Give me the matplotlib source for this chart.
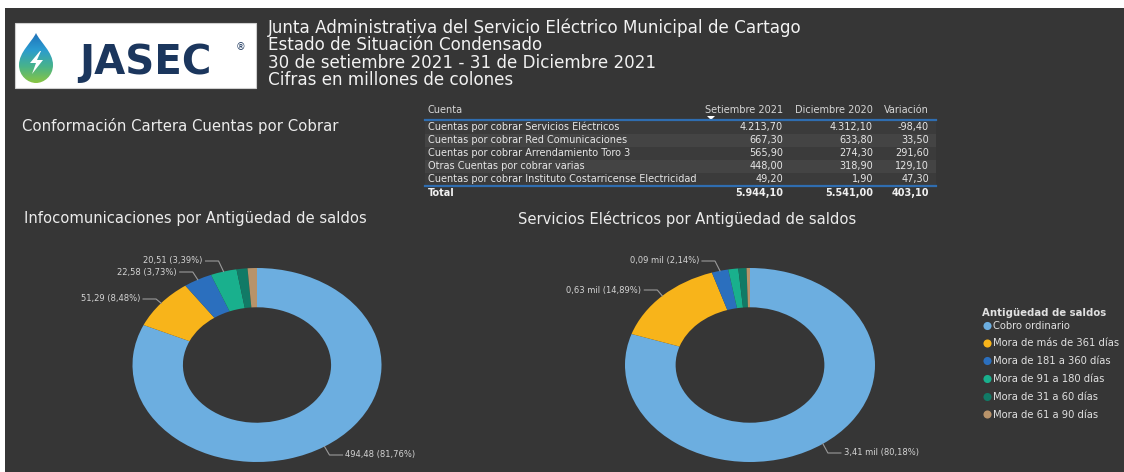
import numpy as np
import matplotlib
matplotlib.use("Agg")
import matplotlib.pyplot as plt
from matplotlib.path import Path
from matplotlib.patches import PathPatch, Rectangle, Polygon
from matplotlib.colors import LinearSegmentedColormap

plt.rcParams['font.family'] = ['DejaVu Sans']

# ---------------- data ----------------
title_lines = [
    "Junta Administrativa del Servicio Eléctrico Municipal de Cartago",
    "Estado de Situación Condensado",
    "30 de setiembre 2021 - 31 de Diciembre 2021",
    "Cifras en millones de colones",
]
table_headers = ["Cuenta", "Setiembre 2021", "Diciembre 2020", "Variación"]
cuentas = [
    "Cuentas por cobrar Servicios Eléctricos",
    "Cuentas por cobrar Red Comunicaciones",
    "Cuentas por cobrar Arrendamiento Toro 3",
    "Otras Cuentas por cobrar varias",
    "Cuentas por cobrar Instituto Costarricense Electricidad",
]
setiembre_2021 = [4213.70, 667.30, 565.90, 448.00, 49.20]
diciembre_2020 = [4312.10, 633.80, 274.30, 318.90, 1.90]
variacion = [-98.40, 33.50, 291.60, 129.10, 47.30]
totales = [5944.10, 5541.00, 403.10]

categorias = ["Cobro ordinario", "Mora de más de 361 días", "Mora de 181 a 360 días",
              "Mora de 91 a 180 días", "Mora de 31 a 60 días", "Mora de 61 a 90 días"]
colores = ["#6CAEE0", "#F8B41A", "#2B6FBE", "#19B08D", "#117A66", "#B8936A"]
infocom_vals = [494.48, 51.29, 22.58, 20.51, 8.60, 7.33]
electricos_vals = [3410.2, 633.3, 91.0, 55.0, 45.0, 18.7]

# ---------------- layout ----------------
W, H = 1124, 472
BG = "#363636"
fig = plt.figure(figsize=(W / 100, H / 100), dpi=100)
fig.patch.set_facecolor(BG)

ov = fig.add_axes([0, 0, 1, 1], zorder=3)
ov.set_xlim(0, W)
ov.set_ylim(H, 0)
ov.axis('off')
ov.patch.set_visible(False)

# white frame strips
ov.add_patch(Rectangle((0, 0), W, 8, color="white", lw=0))
ov.add_patch(Rectangle((0, 0), 5, H, color="white", lw=0))

# logo box
ov.add_patch(Rectangle((15, 23), 241, 65, facecolor="white", edgecolor="#cfcfcf", lw=0.8))
verts = [(36, 33), (40, 42), (53, 52), (53, 65), (53, 76), (44, 83), (36, 83),
         (28, 83), (19, 76), (19, 65), (19, 52), (32, 42), (36, 33)]
codes = [Path.MOVETO] + [Path.CURVE4] * 12
drop = PathPatch(Path(verts, codes), facecolor="none", edgecolor="none")
ov.add_patch(drop)
grad = np.linspace(0, 1, 100).reshape(-1, 1)
cm = LinearSegmentedColormap.from_list("drop", ["#1F6FB8", "#2A9BD0", "#48B38A", "#8CC63F"])
im = ov.imshow(grad, cmap=cm, extent=(18, 54, 84, 32), aspect='auto', zorder=4)
im.set_clip_path(drop)
bolt = Polygon([(40, 51), (30, 63), (36, 63), (32, 74), (43, 60), (37, 60), (41, 51)],
               closed=True, facecolor="white", edgecolor="none", zorder=5)
ov.add_patch(bolt)
ov.text(79, 63, "JASEC", fontsize=29, fontweight="bold", color="#1B365D",
        va="center", ha="left", zorder=5)
ov.text(236, 47, "®", fontsize=7, color="#1B365D", va="center", ha="left", zorder=5)

# title lines
for i, line in enumerate(title_lines):
    ov.text(268, 28 + i * 17.3, line, fontsize=12.1, color="#f2f2f2", va="center", ha="left")

ov.text(22, 126, "Conformación Cartera Cuentas por Cobrar", fontsize=10.7, color="#ececec",
        va="center", ha="left")
ov.text(24, 219, "Infocomunicaciones por Antigüedad de saldos", fontsize=10.6, color="#ececec",
        va="center", ha="left")
ov.text(518, 219, "Servicios Eléctricos por Antigüedad de saldos", fontsize=10.6, color="#ececec",
        va="center", ha="left")

# ---------------- table ----------------
def fmt(v):
    s = f"{v:,.2f}"
    return s.replace(",", "X").replace(".", ",").replace("X", ".")

tx0, tx1 = 425, 936
col_right = [783, 873, 929]
row_y = [127, 140, 153, 166, 179]
tfs = 7.0
ov.text(428, 110, table_headers[0], fontsize=tfs, color="#d6d6d6", va="center", ha="left")
for j in range(3):
    ov.text(col_right[j], 110, table_headers[j + 1], fontsize=tfs, color="#d6d6d6",
            va="center", ha="right")
ov.add_patch(Polygon([(707, 116), (715, 116), (711, 120)], closed=True, color="white", lw=0))
for i, y in enumerate(row_y):
    shade = "#444444" if i % 2 == 1 else "#3b3b3b"
    ov.add_patch(Rectangle((tx0, y - 6.5), tx1 - tx0, 13, facecolor=shade, lw=0, zorder=1))
    ov.text(428, y, cuentas[i], fontsize=tfs, color="#e6e6e6", va="center", ha="left", zorder=2)
    for j, arr in enumerate([setiembre_2021, diciembre_2020, variacion]):
        ov.text(col_right[j], y, fmt(arr[i]), fontsize=tfs, color="#e6e6e6",
                va="center", ha="right", zorder=2)
ov.plot([tx0, tx1], [120, 120], color="#2F6DB0", lw=1.6, zorder=3)
ov.plot([tx0, tx1], [185.8, 185.8], color="#2F6DB0", lw=1.6, zorder=3)
ov.text(428, 193, "Total", fontsize=tfs, color="#f0f0f0", va="center", ha="left", fontweight="bold")
for j in range(3):
    ov.text(col_right[j], 193, fmt(totales[j]), fontsize=tfs, color="#f0f0f0",
            va="center", ha="right", fontweight="bold")

# ---------------- donuts ----------------
def donut(box, vals, labeled, label_y, fmt_label):
    x0, y0, x1, y1 = box  # pixel box (top-left origin)
    ax = fig.add_axes([x0 / W, (H - y1) / H, (x1 - x0) / W, (y1 - y0) / H], zorder=2)
    wedges, _ = ax.pie(vals, colors=colores, startangle=90, counterclock=False,
                       wedgeprops=dict(width=0.405, edgecolor="none"))
    ax.set_aspect('auto')
    ax.set_xlim(-1, 1)
    ax.set_ylim(-1, 1)
    ax.axis('off')
    total = sum(vals)
    inv = ov.transData.inverted()
    for k, ly in zip(labeled, label_y):
        w = wedges[k]
        th = np.deg2rad((w.theta1 + w.theta2) / 2)
        px, py = inv.transform(ax.transData.transform((np.cos(th) * 1.0, np.sin(th) * 1.0)))
        side = 1 if np.cos(th) >= 0 else -1
        ex = px + side * 5
        hx = ex + side * 13
        ov.plot([px, ex, hx], [py, ly, ly], color="#9a9a9a", lw=0.8, zorder=1)
        ov.text(hx + side * 3, ly, fmt_label(vals[k], vals[k] / total * 100),
                fontsize=6.0, color="#d4d4d4", va="center",
                ha="left" if side > 0 else "right")

def lab_info(v, p):
    return f"{fmt(v)} ({fmt(p)}%)"

def lab_elec(v, p):
    return f"{fmt(v / 1000)} mil ({fmt(p)}%)"

donut((132.5, 268, 381.5, 462), infocom_vals, [0, 1, 2, 3], [455, 299, 272, 261], lab_info)
donut((625, 268, 875, 462), electricos_vals, [0, 1, 2], [453, 290, 261], lab_elec)

# ---------------- legend ----------------
ov.text(982, 313, "Antigüedad de saldos", fontsize=7.3, color="#e0e0e0", fontweight="bold",
        va="center", ha="left")
leg_y = [326, 343.5, 361, 379, 397, 414.5]
for c, name, y in zip(colores, categorias, leg_y):
    ov.scatter([987.5], [y], s=34, color=c, edgecolors="none", zorder=4)
    ov.text(993, y, name, fontsize=7.2, color="#e0e0e0", va="center", ha="left")

fig.savefig("out.png", dpi=100, facecolor=fig.get_facecolor())
